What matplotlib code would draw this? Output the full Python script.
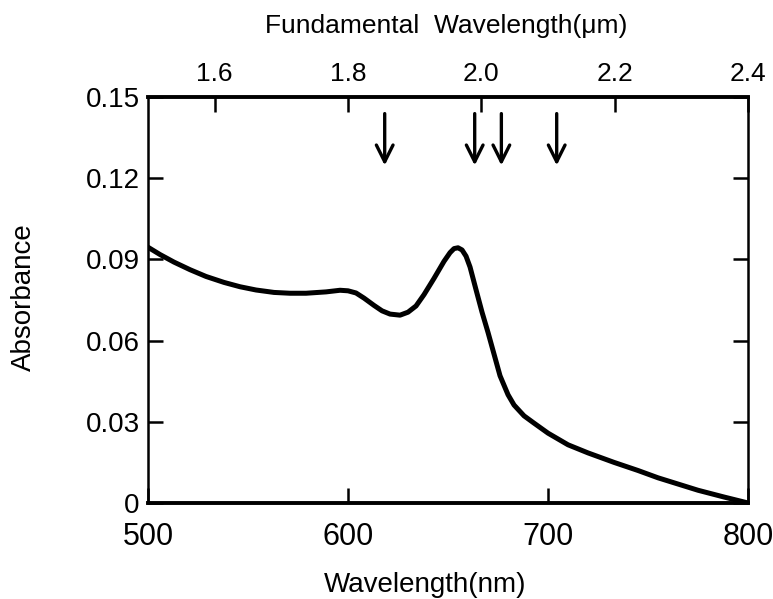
import matplotlib.pyplot as plt

plt.rcParams['font.family'] = ['Liberation Sans', 'DejaVu Sans']

# absorbance spectrum
wavelength_nm = [500, 506, 513, 521, 529, 538, 546, 554, 563, 571, 579, 589, 596, 600,
                 604, 608, 613, 617, 621, 626, 630, 634, 638, 643, 648, 651, 653, 655,
                 657, 659, 661, 664, 667, 670, 673, 676, 680, 683, 688, 693, 700, 710,
                 720, 733, 745, 755, 765, 775, 788, 800]
absorbance = [0.0945, 0.0918, 0.0890, 0.0862, 0.0837, 0.0815, 0.0799, 0.0787, 0.0778,
              0.0775, 0.0775, 0.0780, 0.0786, 0.0784, 0.0776, 0.0757, 0.0730, 0.0710,
              0.0698, 0.0694, 0.0705, 0.0728, 0.0770, 0.0830, 0.0893, 0.0925, 0.0940,
              0.0943, 0.0935, 0.0912, 0.0872, 0.0788, 0.0705, 0.0630, 0.0550, 0.0470,
              0.0400, 0.0362, 0.0322, 0.0295, 0.0258, 0.0215, 0.0185, 0.0150, 0.0120,
              0.0093, 0.0070, 0.0047, 0.0022, 0.0]

# arrows, fundamental wavelength in um
arrow_um = [1.855, 1.99, 2.03, 2.113]
arrow_top = 0.1449
arrow_tip = 0.1237

x_ticks = [500, 600, 700, 800]
y_ticks = [0, 0.03, 0.06, 0.09, 0.12, 0.15]
y_labels = ['0', '0.03', '0.06', '0.09', '0.12', '0.15']
top_ticks = [1.6, 1.8, 2.0, 2.2, 2.4]
top_labels = ['1.6', '1.8', '2.0', '2.2', '2.4']

fig = plt.figure(figsize=(7.73, 5.99), dpi=100)
ax = fig.add_axes([0.1915, 0.1603, 0.7762, 0.6777])

ax.plot(wavelength_nm, absorbance, color='black', lw=3.6,
        solid_capstyle='round', solid_joinstyle='round')

for um in arrow_um:
    nm = um * 1000 / 3
    ax.annotate('', xy=(nm, arrow_tip), xytext=(nm, arrow_top),
                arrowprops=dict(arrowstyle='->, head_length=1.2, head_width=0.6',
                                color='black', lw=2.4))

ax.set_xlim(500, 800)
ax.set_ylim(0, 0.15)
ax.set_xticks(x_ticks)
ax.set_yticks(y_ticks)
ax.set_yticklabels(y_labels)
ax.tick_params(axis='both', direction='in', length=11, width=1.8)
ax.tick_params(axis='x', labelsize=22, pad=14)
ax.tick_params(axis='y', labelsize=20, pad=6, right=True)

for side in ['top', 'bottom']:
    ax.spines[side].set_linewidth(2.8)
for side in ['left', 'right']:
    ax.spines[side].set_linewidth(1.8)

top = ax.secondary_xaxis('top', functions=(lambda x: x * 3 / 1000, lambda u: u * 1000 / 3))
top.set_xticks(top_ticks)
top.set_xticklabels(top_labels)
top.tick_params(direction='in', length=11, width=1.8, labelsize=19, pad=8)

fig.text(0.577, 0.957, 'Fundamental  Wavelength(\u03bcm)', fontsize=19, ha='center', va='center')
fig.text(0.550, 0.024, 'Wavelength(nm)', fontsize=20, ha='center', va='center')
fig.text(0.031, 0.504, 'Absorbance', fontsize=20, ha='center', va='center', rotation=90)

plt.savefig('out.png', dpi=100)
